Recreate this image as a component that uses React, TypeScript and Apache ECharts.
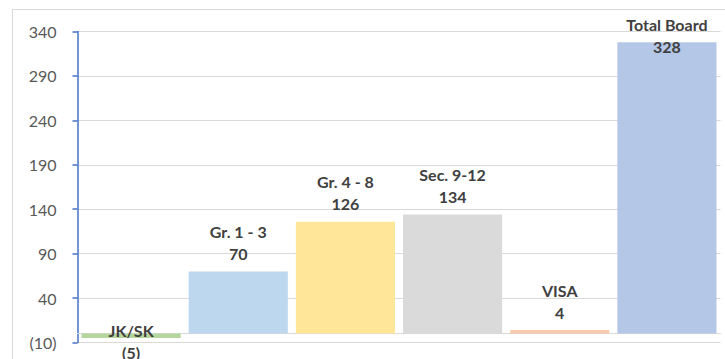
import React, { useEffect, useRef } from "react";
import * as echarts from "echarts";

const categories = ["JK/SK", "Gr. 1 - 3", "Gr. 4 - 8", "Sec. 9-12", "VISA", "Total Board"];
const values = [-5, 70, 126, 134, 4, 328];
const colors = ["#B5D79E", "#BDD7EE", "#FFE699", "#DADADA", "#F8CBAD", "#B4C7E7"];
const yMin = -10;
const yMax = 340;
const yInterval = 50;

const FONT = "Lato";

function fmt(v: number): string {
  return v < 0 ? `(${Math.abs(v)})` : `${v}`;
}

export default function App() {
  const ref = useRef<HTMLDivElement>(null);
  useEffect(() => {
    if (!ref.current) return;
    const chart = echarts.init(ref.current, null, { renderer: "svg" });
    const data = values.map((v, i) => {
      const item: any = { value: v, itemStyle: { color: colors[i] } };
      if (i === values.length - 1) {
        item.label = { position: "insideTop", distance: -29 };
      } else if (v < 0) {
        item.label = { position: "inside", offset: [0, 6] };
      }
      return item;
    });
    chart.setOption({
      animation: false,
      textStyle: { fontFamily: FONT },
      graphic: [
        {
          type: "rect",
          shape: { x: 12.5, y: 9.5, width: 740, height: 380 },
          style: { fill: "none", stroke: "#D9D9D9", lineWidth: 1 },
          silent: true,
        },
      ],
      grid: { left: 77.5, right: 4.5, top: 31.5, bottom: 16.5, containLabel: false },
      xAxis: {
        type: "category",
        data: categories,
        axisLine: { onZero: true, lineStyle: { color: "#D9D9D9", width: 1 } },
        axisTick: { show: false },
        axisLabel: { show: false },
        splitLine: { show: false },
      },
      yAxis: {
        type: "value",
        min: yMin,
        max: yMax,
        interval: yInterval,
        axisLine: { show: true, lineStyle: { color: "#4472C4", width: 1.5 } },
        axisTick: { show: true, inside: false, length: 5, lineStyle: { color: "#4472C4", width: 1.5 } },
        axisLabel: {
          color: "#595959",
          fontSize: 16,
          fontFamily: FONT,
          margin: 21,
          formatter: (v: number) => fmt(v),
        },
        splitLine: { show: true, lineStyle: { color: "#D9D9D9", width: 1 } },
      },
      series: [
        {
          type: "bar",
          data,
          barCategoryGap: "7.5%",
          label: {
            show: true,
            position: "top",
            distance: 7,
            color: "#404040",
            fontWeight: "bold",
            fontSize: 16,
            fontFamily: FONT,
            lineHeight: 22,
            align: "center",
            formatter: (p: any) => `${categories[p.dataIndex]}\n${fmt(p.value)}`,
          },
        },
      ],
    });
    return () => chart.dispose();
  }, []);
  return (
    <div
      ref={ref}
      style={{ position: "fixed", left: 0, top: 0, width: 725, height: 359, background: "#fff" }}
    />
  );
}
